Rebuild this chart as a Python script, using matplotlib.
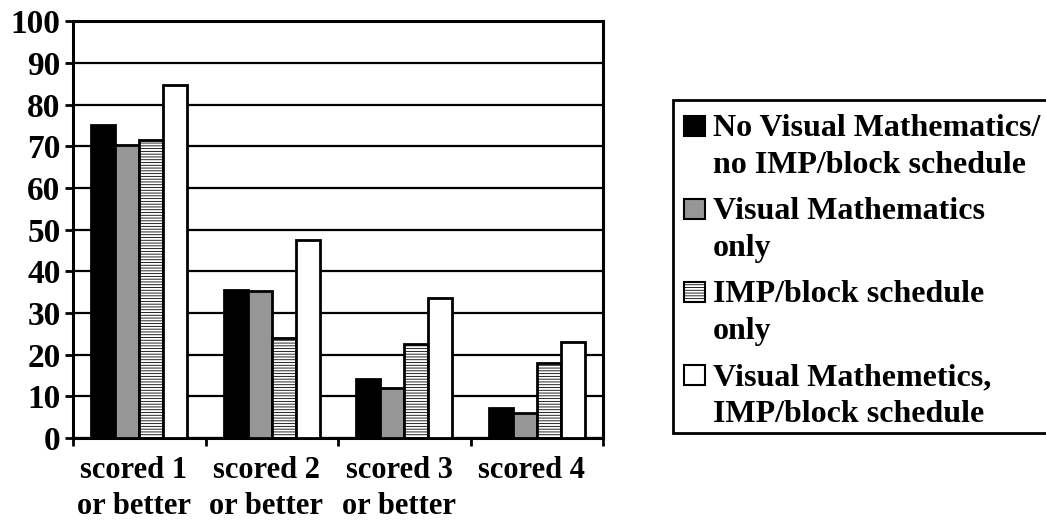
import numpy as np
import matplotlib.pyplot as plt
from matplotlib.patches import Rectangle

# chart data
categories = ["scored 1\nor better", "scored 2\nor better", "scored 3\nor better", "scored 4"]
series_names = ["No Visual Mathematics/\nno IMP/block schedule",
                "Visual Mathematics\nonly",
                "IMP/block schedule\nonly",
                "Visual Mathemetics,\nIMP/block schedule"]
no_vm_no_imp = [75, 35.5, 14.2, 7.2]
vm_only = [70.4, 35.2, 11.9, 5.9]
imp_only = [71.4, 23.9, 22.5, 17.9]
vm_and_imp = [84.7, 47.6, 33.7, 23.1]
y_ticks = [0, 10, 20, 30, 40, 50, 60, 70, 80, 90, 100]

values = [no_vm_no_imp, vm_only, imp_only, vm_and_imp]
# face colour, hatch for each series
styles = [("black", None), ("#969696", None), ("white", "------"), ("white", None)]

plt.rcParams['font.family'] = ['Liberation Serif', 'DejaVu Serif']
plt.rcParams['font.weight'] = 'bold'
plt.rcParams['hatch.linewidth'] = 0.6
plt.rcParams['hatch.color'] = 'black'

fig = plt.figure(figsize=(10.46, 5.29), dpi=100)
ax = fig.add_axes([0.0698, 0.172, 0.5067, 0.788])

x = np.arange(len(categories))
width = 0.182
for i, (vals, (fc, hatch)) in enumerate(zip(values, styles)):
    offset = (i - 1.5) * width
    ax.bar(x + offset, vals, width, color=fc, edgecolor='black', linewidth=2,
           hatch=hatch, zorder=3)

ax.set_xlim(-0.5, len(categories) - 0.5)
ax.set_ylim(0, 100)
ax.set_yticks(y_ticks)
ax.set_yticklabels([str(t) for t in y_ticks], fontsize=24, fontweight='bold')
ax.yaxis.grid(True, color='black', linewidth=1.6, zorder=0)
ax.set_axisbelow(True)

ax.set_xticks(x - 0.04)
ax.set_xticklabels(categories, fontsize=22, fontweight='bold', linespacing=1.3)
ax.set_xticks(np.arange(len(categories) + 1) - 0.5, minor=True)
ax.tick_params(axis='x', which='major', length=0, pad=13)
ax.tick_params(axis='x', which='minor', length=6, width=2, direction='out')
ax.tick_params(axis='y', length=6, width=2, direction='out', pad=3)
for s in ax.spines.values():
    s.set_linewidth(2.2)

# legend drawn by hand in pixel coordinates of the figure
W, H = 1046, 529
frame = Rectangle((673 / W, 1 - 433 / H), 400 / W, 333 / H, transform=fig.transFigure,
                  facecolor='white', edgecolor='black', linewidth=2, clip_on=False)
fig.patches.append(frame)
for i, (name, (fc, hatch)) in enumerate(zip(series_names, styles)):
    base = 136 + 83 * i
    box = Rectangle((684 / W, 1 - base / H), 21 / W, 20 / H, transform=fig.transFigure,
                    facecolor=fc, edgecolor='black', linewidth=1.5, hatch=hatch)
    fig.patches.append(box)
    for j, line in enumerate(name.split("\n")):
        fig.text(713 / W, 1 - (base + 37 * j) / H, line, fontsize=23,
                 fontweight='bold', va='baseline', ha='left')

fig.savefig("out.png", dpi=100)
